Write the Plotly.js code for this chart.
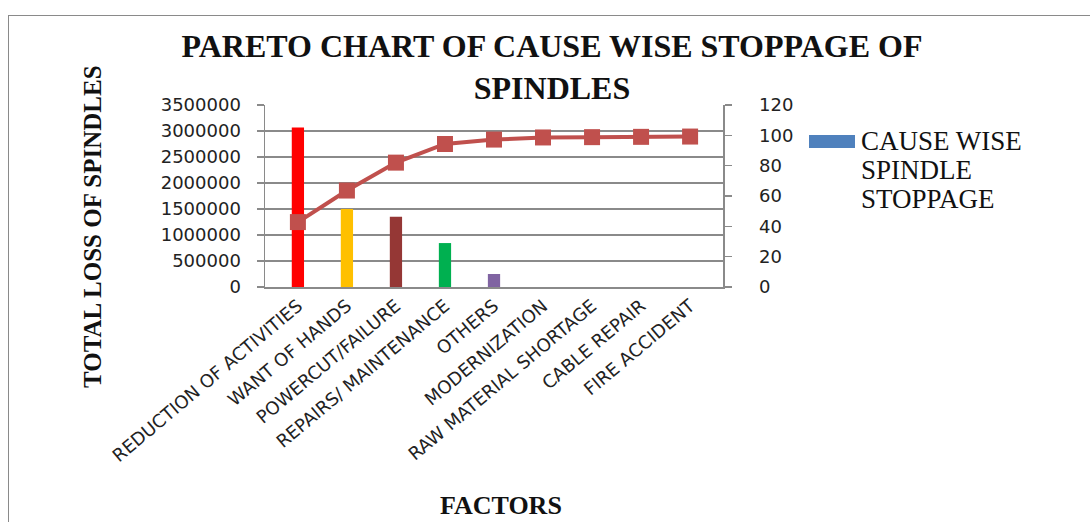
<!DOCTYPE html>
<html>
<head>
<meta charset="utf-8">
<script src="https://cdn.plot.ly/plotly-3.0.1.min.js"></script>
<style>
  html, body { margin: 0; padding: 0; background: #ffffff; }
  #wrap { position: relative; width: 1090px; height: 522px; overflow: hidden; }
  #chart { position: absolute; left: 0; top: 0; width: 1090px; height: 522px; }
  #frame {
    position: absolute; left: 8px; top: 15px; width: 1100px; height: 520px;
    border-left: 1.5px solid #8a8a8a; border-top: 1.5px solid #8a8a8a;
    pointer-events: none;
  }
</style>
</head>
<body>
<div id="wrap">
  <div id="chart"></div>
  <div id="frame"></div>
</div>
<script>
// Causes of spindle stoppage, sorted by loss
const categories = [
  'REDUCTION OF ACTIVITIES',
  'WANT OF HANDS',
  'POWERCUT/FAILURE',
  'REPAIRS/ MAINTENANCE',
  'OTHERS',
  'MODERNIZATION',
  'RAW MATERIAL SHORTAGE',
  'CABLE REPAIR',
  'FIRE ACCIDENT'
];

// Total loss of spindles per cause (the last four are negligible)
const spindleLoss = [3065000, 1500000, 1350000, 845000, 250000, 0, 0, 0, 0];

// Cumulative share of the total loss (%)
const cumulativePct = [42.8, 63.6, 82.0, 94.3, 97.2, 98.6, 98.8, 99.0, 99.2];

// One colour per cause
const barColors = ['#FF0000', '#FFC000', '#953735', '#00B050', '#8064A2',
                   '#4BACC6', '#F79646', '#4F81BD', '#C0504D'];

const seriesName = 'CAUSE WISE SPINDLE STOPPAGE';
const legendLines = ['CAUSE WISE', 'SPINDLE', 'STOPPAGE'];
const legendColor = '#4F81BD';

const gridGray = '#8a8a8a';
const serif = 'Liberation Serif, Times New Roman, serif';
const sans = 'DejaVu Sans, Arial, sans-serif';

const traces = [
  {
    type: 'bar',
    name: seriesName,
    x: categories,
    y: spindleLoss,
    width: 0.25,
    marker: { color: barColors },
    showlegend: false,
    hoverinfo: 'x+y'
  },
  {
    type: 'scatter',
    mode: 'lines+markers',
    name: 'CUMULATIVE %',
    x: categories,
    y: cumulativePct,
    yaxis: 'y2',
    line: { color: '#C0504D', width: 4 },
    marker: { symbol: 'square', size: 16, color: '#C0504D' },
    showlegend: false,
    cliponaxis: false
  }
];

// Plot-area offsets used to place the hand-built legend and axis captions
const plotL = 265, plotR = 723, plotT = 105, plotB = 287;
const pw = plotR - plotL, ph = plotB - plotT;
const px = v => (v - plotL) / pw;
const py = v => (plotB - v) / ph;

const legendAnnotations = legendLines.map((txt, i) => ({
  xref: 'paper', yref: 'paper',
  x: px(859), y: py(141 + i * 29),
  xanchor: 'left', yanchor: 'middle',
  text: txt, showarrow: false,
  font: { family: serif, size: 27, color: '#111111' }
}));

const layout = {
  width: 1090,
  height: 522,
  paper_bgcolor: '#ffffff',
  plot_bgcolor: '#ffffff',
  margin: { l: plotL, r: 1090 - plotR, t: plotT, b: 522 - plotB, pad: 0 },
  showlegend: false,
  barmode: 'overlay',
  title: {
    text: 'PARETO CHART OF CAUSE WISE STOPPAGE OF<br>SPINDLES',
    x: 552 / 1090, xanchor: 'center',
    y: 1 - 57 / 522, yanchor: 'middle',
    yref: 'container', xref: 'container',
    font: { family: serif, size: 32, weight: 'bold', color: '#111111' }
  },
  xaxis: {
    type: 'category',
    tickangle: -40,
    tickfont: { family: sans, size: 18, color: '#222222' },
    showline: true, linecolor: gridGray, linewidth: 1.5,
    ticks: '', showgrid: false, zeroline: false,
    automargin: false
  },
  yaxis: {
    range: [0, 3500000],
    dtick: 500000,
    tickformat: 'd',
    tickfont: { family: sans, size: 18, color: '#222222' },
    showgrid: true, gridcolor: gridGray, gridwidth: 1.5,
    showline: true, linecolor: gridGray, linewidth: 1.5,
    ticks: 'outside', ticklen: 7, tickcolor: gridGray, tickwidth: 1.5,
    ticklabelstandoff: 12,
    zeroline: false,
    automargin: false
  },
  yaxis2: {
    overlaying: 'y',
    side: 'right',
    range: [0, 120],
    dtick: 20,
    tickfont: { family: sans, size: 18, color: '#222222' },
    showgrid: false,
    showline: true, linecolor: gridGray, linewidth: 1.5,
    ticks: 'outside', ticklen: 7, tickcolor: gridGray, tickwidth: 1.5,
    ticklabelstandoff: 24,
    zeroline: false,
    automargin: false
  },
  shapes: [
    {
      type: 'rect', xref: 'paper', yref: 'paper',
      x0: px(809), x1: px(855), y0: py(148), y1: py(135),
      fillcolor: legendColor, line: { width: 0 }
    }
  ],
  annotations: [
    {
      xref: 'paper', yref: 'paper',
      x: px(92), y: py(227),
      xanchor: 'center', yanchor: 'middle',
      textangle: -90,
      text: 'TOTAL LOSS OF SPINDLES', showarrow: false,
      font: { family: serif, size: 25, weight: 'bold', color: '#111111' }
    },
    {
      xref: 'paper', yref: 'paper',
      x: px(501), y: py(505),
      xanchor: 'center', yanchor: 'middle',
      text: 'FACTORS', showarrow: false,
      font: { family: serif, size: 26, weight: 'bold', color: '#111111' }
    }
  ].concat(legendAnnotations)
};

Plotly.newPlot('chart', traces, layout, { displayModeBar: false, staticPlot: true });
</script>
</body>
</html>
